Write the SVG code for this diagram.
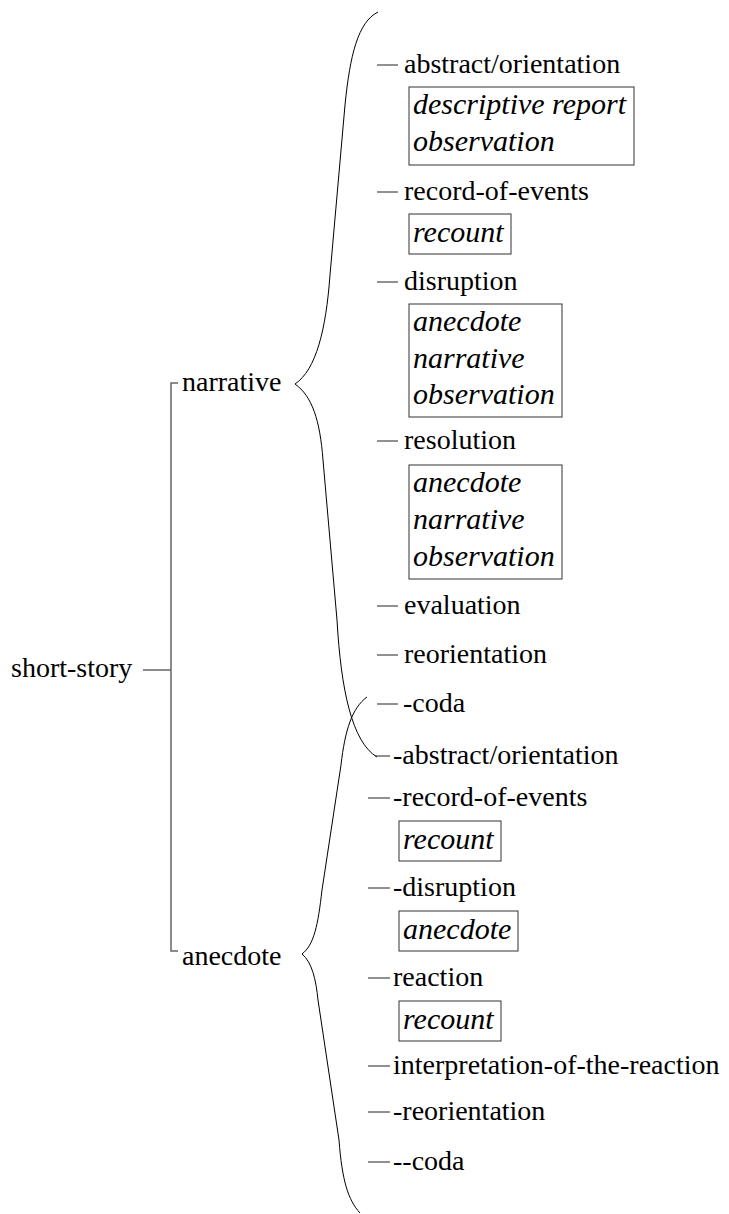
<svg xmlns="http://www.w3.org/2000/svg" width="729" height="1214" viewBox="0 0 729 1214" font-family="Liberation Serif, Times New Roman, DejaVu Serif, serif">
<style>
text{font-size:28px;fill:#000}
.it{font-style:italic;font-size:30px}
.box{fill:none;stroke:#333;stroke-width:1}
.br{fill:none;stroke:#000;stroke-width:1}
.dash{stroke:#222;stroke-width:1}
.bk{fill:none;stroke:#666;stroke-width:1.5}
</style>
<rect width="729" height="1214" fill="#fff"/>
<g id="connectors">
<polyline class="bk" points="178,383 171,383 171,951 178,951"/>
<line class="bk" x1="143" y1="670" x2="171" y2="670"/>
<path class="br" d="M378,12 C358,22 350,55 345,105 L330,275 C326,330 316,370 295,384 C312,396 320,420 323,460 L337,620 C341,690 352,742 377,757"/>
<path class="br" d="M367,697 C352,708 345,730 341,765 L322,890 C318,925 314,945 302,954 C312,962 316,980 318,1000 L339,1140 C342,1180 348,1200 360,1213"/>
<line class="dash" x1="377" y1="65" x2="398" y2="65"/>
<line class="dash" x1="377" y1="192" x2="398" y2="192"/>
<line class="dash" x1="377" y1="282" x2="398" y2="282"/>
<line class="dash" x1="377" y1="441" x2="398" y2="441"/>
<line class="dash" x1="377" y1="606" x2="398" y2="606"/>
<line class="dash" x1="377" y1="655" x2="398" y2="655"/>
<line class="dash" x1="377" y1="704" x2="398" y2="704"/>
<line class="dash" x1="375" y1="756" x2="390" y2="756"/>
<line class="dash" x1="368" y1="798" x2="390" y2="798"/>
<line class="dash" x1="368" y1="888" x2="390" y2="888"/>
<line class="dash" x1="368" y1="978" x2="390" y2="978"/>
<line class="dash" x1="368" y1="1066" x2="390" y2="1066"/>
<line class="dash" x1="368" y1="1112" x2="390" y2="1112"/>
<line class="dash" x1="368" y1="1162" x2="390" y2="1162"/>
</g>
<g id="short-story"><text x="11" y="677">short-story</text></g>
<g id="narrative"><text x="182" y="391">narrative</text></g>
<g id="anecdote"><text x="182" y="965">anecdote</text></g>
<g id="n-abstract"><text x="404" y="73">abstract/orientation</text>
<rect class="box" x="409" y="87" width="225" height="78"/>
<text class="it" x="413" y="114">descriptive report</text>
<text class="it" x="413" y="151">observation</text></g>
<g id="n-record"><text x="404" y="200">record-of-events</text>
<rect class="box" x="409" y="214" width="102" height="40"/>
<text class="it" x="413" y="242">recount</text></g>
<g id="n-disruption"><text x="404" y="290">disruption</text>
<rect class="box" x="409" y="304" width="153" height="113"/>
<text class="it" x="413" y="331">anecdote</text>
<text class="it" x="413" y="368">narrative</text>
<text class="it" x="413" y="404">observation</text></g>
<g id="n-resolution"><text x="404" y="449">resolution</text>
<rect class="box" x="409" y="465" width="153" height="114"/>
<text class="it" x="413" y="492">anecdote</text>
<text class="it" x="413" y="529">narrative</text>
<text class="it" x="413" y="566">observation</text></g>
<g id="n-evaluation"><text x="404" y="614">evaluation</text></g>
<g id="n-reorientation"><text x="404" y="663">reorientation</text></g>
<g id="n-coda"><text x="403" y="712">-coda</text></g>
<g id="a-abstract"><text x="393" y="764">-abstract/orientation</text></g>
<g id="a-record"><text x="393" y="806">-record-of-events</text>
<rect class="box" x="399" y="821" width="102" height="40"/>
<text class="it" x="403" y="849">recount</text></g>
<g id="a-disruption"><text x="393" y="896">-disruption</text>
<rect class="box" x="399" y="911" width="119" height="40"/>
<text class="it" x="403" y="939">anecdote</text></g>
<g id="a-reaction"><text x="393" y="986">reaction</text>
<rect class="box" x="399" y="1001" width="102" height="40"/>
<text class="it" x="403" y="1029">recount</text></g>
<g id="a-interpretation"><text x="393" y="1074">interpretation-of-the-reaction</text></g>
<g id="a-reorientation"><text x="393" y="1120">-reorientation</text></g>
<g id="a-coda"><text x="393" y="1170">--coda</text></g>
</svg>
